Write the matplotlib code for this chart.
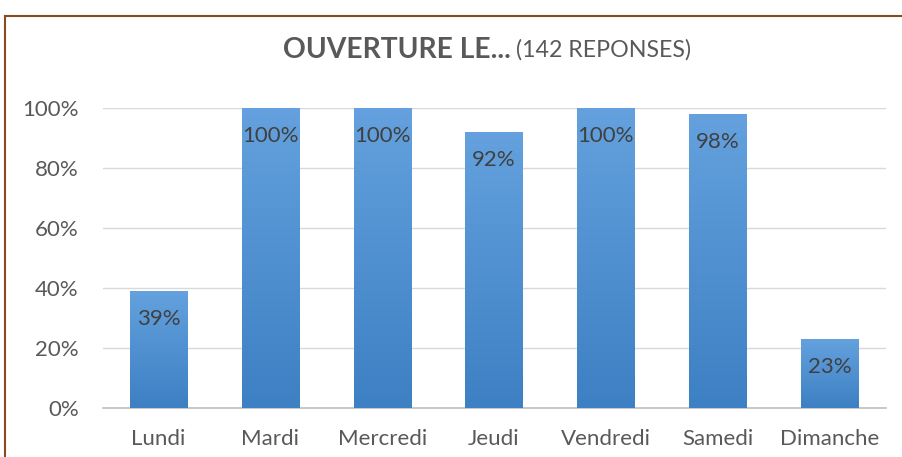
import matplotlib.pyplot as plt
import numpy as np
from matplotlib.colors import LinearSegmentedColormap
from matplotlib.lines import Line2D

days = ['Lundi', 'Mardi', 'Mercredi', 'Jeudi', 'Vendredi', 'Samedi', 'Dimanche']
values = [39, 100, 100, 92, 100, 98, 23]
yticks = [0, 20, 40, 60, 80, 100]
ytick_labels = ['0%', '20%', '40%', '60%', '80%', '100%']

plt.rcParams['font.family'] = ['Lato', 'DejaVu Sans']
grey = '#595959'

fig = plt.figure(figsize=(9.02, 4.57), dpi=100)
ax = fig.add_axes([102.5/902, 49/457, 783/902, 300/457])

x = np.arange(len(days))
bars = ax.bar(x, values, width=0.51, color='#4a8fd3', zorder=3)

# vertical gradient inside each bar
cmap = LinearSegmentedColormap.from_list('blu', ['#3d80c3', '#64a1de'])
grad = np.linspace(0, 1, 256).reshape(-1, 1)
for b in bars:
    bx, by = b.get_x(), b.get_y()
    im = ax.imshow(grad, cmap=cmap, origin='lower', aspect='auto',
                   extent=[bx, bx + b.get_width(), by, by + b.get_height()], zorder=4)
    im.set_clip_path(b)

for xi, v in zip(x, values):
    ax.annotate(f'{v}%', (xi, v), xytext=(0, -28), textcoords='offset pixels',
                ha='center', va='center', fontsize=16, color='#404040', zorder=5)

ax.set_xlim(-0.5, len(days) - 0.5)
ax.set_ylim(0, 100)
ax.set_yticks(yticks)
ax.set_yticklabels(ytick_labels)
ax.set_xticks(x)
ax.set_xticklabels(days)
ax.tick_params(axis='both', length=0, labelsize=16, colors=grey)
ax.tick_params(axis='y', pad=17)
ax.tick_params(axis='x', pad=15)
ax.grid(axis='y', color='#d9d9d9', linewidth=1, zorder=0)
for s in ['top', 'right', 'left']:
    ax.spines[s].set_visible(False)
ax.spines['bottom'].set_color('#bfbfbf')
ax.spines['bottom'].set_linewidth(1.2)

fig.text(511/902, 1 - 50/457, 'OUVERTURE LE...', ha='right', va='center',
         fontsize=20.3, fontweight='bold', color=grey)
fig.text(516/902, 1 - 50/457, '(142 REPONSES)', ha='left', va='center',
         fontsize=16.7, color=grey)

# brown frame (left and top edges visible)
fig.add_artist(Line2D([4.5/902, 4.5/902], [0, 1 - 15.5/457], color='#8b4a1c', linewidth=1.5))
fig.add_artist(Line2D([4.5/902, 1], [1 - 15.5/457, 1 - 15.5/457], color='#8b4a1c', linewidth=1.5))

fig.savefig('out.png', dpi=100)
